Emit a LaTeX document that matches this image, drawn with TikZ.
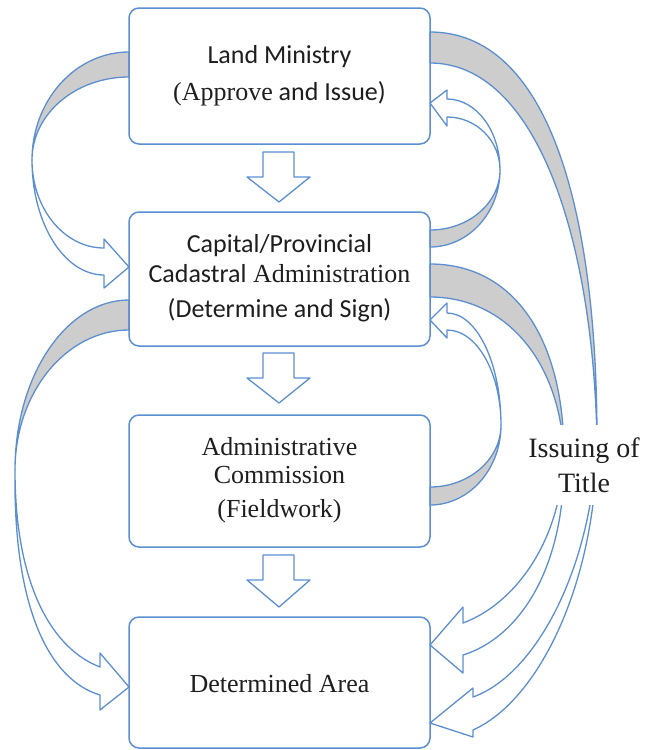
\documentclass[tikz,border=0pt]{standalone}
\usepackage{fontspec}
\setmainfont{Liberation Serif}
\newfontfamily\sansf{Carlito}
\definecolor{bl}{RGB}{91,143,210}
\definecolor{gf}{RGB}{205,205,205}
\definecolor{tx}{RGB}{30,30,30}
\begin{document}
\begin{tikzpicture}[x=1pt,y=-1pt,
  ln/.style={draw=bl,line width=1.3pt,line join=round},
  gface/.style={ln,fill=gf},
  wface/.style={ln,fill=white},
  box/.style={draw=bl,line width=1.5pt,rounded corners=10pt,minimum width=301pt,inner sep=0pt},
  sl/.style={anchor=base,font=\sansf\fontsize{26pt}{30pt}\selectfont,text=tx,inner sep=0pt},
  rl/.style={anchor=base,font=\fontsize{26pt}{30pt}\selectfont,text=tx,inner sep=0pt}]
\useasboundingbox (0,0) rectangle (647,750);

% curved arrow: Land Ministry -> Capital/Provincial (left)
\path[gface] (129,52) .. controls (75.4,52) and (32,100.4) .. (32,160) .. controls (32,114) and (75.4,77) .. (129,77) -- cycle;
\path[wface] (32,160) .. controls (32,223.5) and (64.2,275) .. (104,275) -- (104,288) -- (129,267) -- (104,239) -- (104,248) .. controls (64.2,248) and (32,208.6) .. (32,160) -- cycle;

% curved arrow: Capital/Provincial -> Land Ministry (right)
\path[gface] (430,230) .. controls (468.7,230) and (500,203) .. (500,170) .. controls (500,212.5) and (468.7,247) .. (430,247) -- cycle;
\path[wface] (500,170) .. controls (500,130.8) and (476.3,99) .. (447,99) -- (447,90) -- (430,103) -- (447,126) -- (447,117) .. controls (476.3,117) and (500,140.7) .. (500,170) -- cycle;

% curved arrow: Administrative Commission -> Capital/Provincial (right)
\path[gface] (430,487) .. controls (469.2,487) and (501,459.2) .. (501,425) .. controls (501,469.2) and (469.2,505) .. (430,505) -- cycle;
\path[wface] (501,425) .. controls (501,363.1) and (476.8,313) .. (447,313) -- (447,303) -- (430,320) -- (447,338) -- (447,330) .. controls (476.8,330) and (501,372.5) .. (501,425) -- cycle;

% curved arrow: Land Ministry -> Determined Area (right, long)
\path[gface] (430,32) .. controls (545,32) and (597,200) .. (597,440) .. controls (593,235) and (535,63) .. (430,63) -- cycle;
\path[wface] (597,440) .. controls (597,580) and (540,700) .. (473,730) -- (473,737) -- (430,723) -- (473,688) -- (473,697) .. controls (535,675) and (592,570) .. (597,440) -- cycle;

% curved arrow: Capital/Provincial -> Determined Area (right)
\path[gface] (430,264) .. controls (515,264) and (564,340) .. (564,455) .. controls (560,360) and (505,297) .. (430,297) -- cycle;
\path[wface] (564,455) .. controls (566,570) and (518,638) .. (463,655) -- (463,673) -- (430,645) -- (463,607) -- (463,623) .. controls (512,605) and (561,545) .. (564,455) -- cycle;

% curved arrow: Capital/Provincial -> Determined Area (left)
\path[gface] (129,300) .. controls (66,300) and (15,376) .. (15,470) .. controls (15,392.7) and (66,330) .. (129,330) -- cycle;
\path[wface] (15,470) .. controls (13,610) and (50,680) .. (100,695) -- (100,710) -- (129,687) -- (100,653) -- (100,667) .. controls (55,650) and (15,590) .. (15,470) -- cycle;

% down block arrows
\path[wface] (263,152) -- (294,152) -- (294,177) -- (310,177) -- (279,202) -- (247,177) -- (263,177) -- cycle;
\path[wface] (263,353) -- (294,353) -- (294,378) -- (310,378) -- (279,403) -- (247,378) -- (263,378) -- cycle;
\path[wface] (263,555) -- (294,555) -- (294,580) -- (310,580) -- (279,607) -- (247,580) -- (263,580) -- cycle;

% boxes
\node[box,minimum height=136pt] (b1) at (279.5,76) {};
\node[box,minimum height=134pt] (b2) at (279.5,279) {};
\node[box,minimum height=132pt] (b3) at (279.5,481) {};
\node[box,minimum height=131pt] (b4) at (279.5,682.5) {};

% texts
\node[sl] (b1a) at (279.5,63) {Land Ministry};
\node[rl] (b1b) at (279.5,100) {(Approve{\sansf{} and Issue)}};
\node[sl] (b2a) at (279.5,252) {Capital/Provincial};
\node[rl] (b2b) at (279.5,282) {{\sansf Cadastral} Administration};
\node[sl] (b2c) at (279.5,317) {(Determine and Sign)};
\node[rl] (b3a) at (279.5,455) {Administrative};
\node[rl] (b3b) at (279.5,483) {Commission};
\node[rl] (b3c) at (279.5,517) {(Fieldwork)};
\node[rl] (b4a) at (279.5,692) {Determined Area};

\node[fill=white,minimum width=122pt,minimum height=80pt,inner sep=0pt,align=center,
      font=\fontsize{28pt}{35pt}\selectfont,text=tx] (iss) at (584,465) {Issuing of\\Title};
\end{tikzpicture}
\end{document}
